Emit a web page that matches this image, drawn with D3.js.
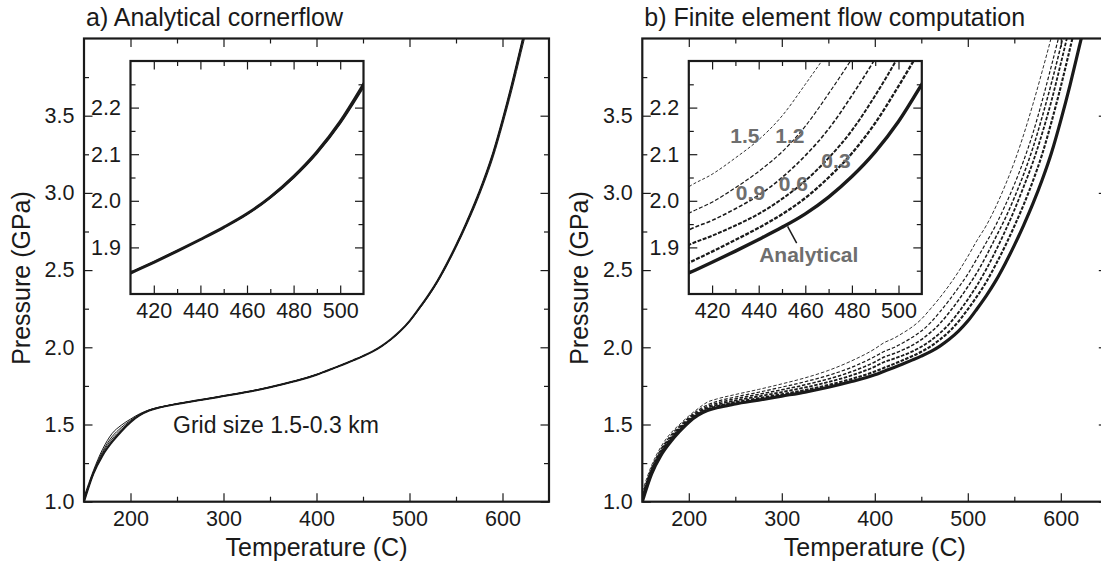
<!DOCTYPE html>
<html>
<head>
<meta charset="utf-8">
<script src="https://cdn.jsdelivr.net/npm/d3@7"></script>
<style>
  body { margin: 0; background: #fff; }
  svg { font-family: "Liberation Sans", Arial, Helvetica, sans-serif; }
  .tick text { font-size: 21.5px; fill: #1a1a1a; }
  .tick line { stroke: #1a1a1a; stroke-width: 1.2; }
</style>
</head>
<body>
<div id="chart"></div>
<script>
// Temperature (C) at which every P-T path is sampled
var temps = [150, 160, 170, 180, 190, 200, 210, 220, 230, 250, 275, 300, 325, 350, 375, 400,
    410, 420, 430, 440, 450, 460, 470, 480, 490, 500, 510, 520, 530, 540, 550, 560, 570, 580, 590, 600, 610, 620, 630];

// Pressure (GPa), analytical cornerflow solution
var analytical = [1.00, 1.18, 1.30, 1.385, 1.455, 1.515, 1.56, 1.59, 1.608, 1.633, 1.658, 1.684, 1.71, 1.741, 1.778, 1.822,
    1.845, 1.868, 1.892, 1.917, 1.943, 1.972, 2.008, 2.052, 2.105, 2.17, 2.25, 2.335, 2.43, 2.54, 2.66, 2.79, 2.93, 3.085, 3.26, 3.47, 3.70, 3.95, 4.20];

// Panel a: analytical flow sampled on grids of 1.5 - 0.3 km
var aGrid15 = [1.03, 1.20, 1.34, 1.44, 1.495, 1.535, 1.57, 1.595, 1.611, 1.635, 1.66, 1.686, 1.712, 1.743, 1.78, 1.824,
    1.846, 1.869, 1.893, 1.917, 1.943, 1.971, 2.006, 2.049, 2.101, 2.165, 2.243, 2.326, 2.419, 2.527, 2.645, 2.773, 2.91, 3.062, 3.233, 3.44, 3.665, 3.91, 4.16];
var aGrid12 = [1.02, 1.19, 1.325, 1.42, 1.48, 1.527, 1.566, 1.593, 1.61, 1.634, 1.659, 1.685, 1.711, 1.742, 1.779, 1.823,
    1.846, 1.868, 1.892, 1.917, 1.943, 1.972, 2.007, 2.051, 2.103, 2.168, 2.247, 2.331, 2.425, 2.534, 2.653, 2.782, 2.921, 3.074, 3.248, 3.457, 3.685, 3.933, 4.18];
var aGrid09 = [1.01, 1.185, 1.315, 1.405, 1.468, 1.521, 1.563, 1.591, 1.609, 1.633, 1.658, 1.684, 1.71, 1.741, 1.778, 1.822,
    1.845, 1.868, 1.892, 1.917, 1.943, 1.972, 2.008, 2.052, 2.104, 2.169, 2.249, 2.333, 2.428, 2.537, 2.657, 2.787, 2.926, 3.08, 3.255, 3.465, 3.694, 3.944, 4.19];
var aGrid06 = [1.005, 1.18, 1.305, 1.393, 1.46, 1.518, 1.561, 1.59, 1.608, 1.633, 1.658, 1.684, 1.71, 1.741, 1.778, 1.822,
    1.845, 1.868, 1.892, 1.917, 1.943, 1.972, 2.008, 2.052, 2.105, 2.17, 2.25, 2.335, 2.43, 2.54, 2.66, 2.79, 2.93, 3.085, 3.26, 3.47, 3.70, 3.95, 4.20];
var aGrid03 = [1.00, 1.18, 1.302, 1.388, 1.457, 1.516, 1.56, 1.59, 1.608, 1.633, 1.658, 1.684, 1.71, 1.741, 1.778, 1.822,
    1.845, 1.868, 1.892, 1.917, 1.943, 1.972, 2.008, 2.052, 2.105, 2.17, 2.25, 2.335, 2.43, 2.54, 2.66, 2.79, 2.93, 3.085, 3.26, 3.47, 3.70, 3.95, 4.20];

// Panel b: finite element flow computation, grid size 1.5 - 0.3 km
var bGrid15 = [1.065, 1.235, 1.355, 1.44, 1.5, 1.555, 1.603, 1.645, 1.665, 1.694, 1.727, 1.763, 1.802, 1.85, 1.912, 1.99,
    2.03, 2.057, 2.092, 2.131, 2.182, 2.25, 2.322, 2.402, 2.49, 2.588, 2.693, 2.79, 2.909, 3.046, 3.199, 3.376, 3.574, 3.788, 4.013, 4.26, 4.5, 4.7, 4.9];
var bGrid12 = [1.045, 1.22, 1.34, 1.425, 1.49, 1.546, 1.592, 1.627, 1.649, 1.678, 1.709, 1.742, 1.777, 1.818, 1.87, 1.94,
    1.973, 1.997, 2.028, 2.063, 2.105, 2.16, 2.23, 2.305, 2.387, 2.474, 2.576, 2.68, 2.79, 2.916, 3.054, 3.208, 3.386, 3.597, 3.825, 4.063, 4.31, 4.55, 4.75];
var bGrid09 = [1.03, 1.21, 1.33, 1.415, 1.48, 1.538, 1.583, 1.616, 1.638, 1.666, 1.695, 1.725, 1.757, 1.795, 1.842, 1.905,
    1.937, 1.958, 1.983, 2.012, 2.05, 2.097, 2.154, 2.226, 2.305, 2.392, 2.485, 2.594, 2.712, 2.832, 2.969, 3.12, 3.292, 3.493, 3.713, 3.95, 4.2, 4.45, 4.65];
var bGrid06 = [1.02, 1.20, 1.32, 1.405, 1.472, 1.53, 1.575, 1.607, 1.627, 1.655, 1.682, 1.71, 1.74, 1.775, 1.818, 1.875,
    1.905, 1.925, 1.947, 1.972, 2.004, 2.043, 2.092, 2.151, 2.226, 2.31, 2.402, 2.507, 2.624, 2.751, 2.888, 3.039, 3.199, 3.386, 3.597, 3.838, 4.088, 4.33, 4.55];
var bGrid03 = [1.01, 1.19, 1.31, 1.395, 1.463, 1.522, 1.568, 1.599, 1.617, 1.644, 1.669, 1.696, 1.723, 1.756, 1.795, 1.843,
    1.867, 1.891, 1.916, 1.942, 1.971, 2.006, 2.05, 2.102, 2.167, 2.246, 2.331, 2.425, 2.535, 2.654, 2.784, 2.923, 3.077, 3.251, 3.46, 3.689, 3.938, 4.188, 4.43];

// Axis ticks
var mainXMajor = [200, 300, 400, 500, 600];
var mainXMinor = [250, 350, 450, 550];
var mainYMajor = [1.0, 1.5, 2.0, 2.5, 3.0, 3.5];
var mainYMinor = [1.25, 1.75, 2.25, 2.75, 3.25, 3.75];
var insetXMajor = [420, 440, 460, 480, 500];
var insetXMinor = [430, 450, 470, 490];
var insetYMajor = [1.9, 2.0, 2.1, 2.2];
var insetYMinor = [1.85, 1.95, 2.05, 2.15, 2.25];

// Inset labels in panel b: [text, T, P]
var gridLabels = [["1.5", 427.8, 2.123], ["1.2", 447.1, 2.123], ["0.9", 430.2, 2.001], ["0.6", 448.6, 2.021], ["0.3", 466.9, 2.07]];

var svgWidth = 1101;
var svgHeight = 563;
var ink = "#1a1a1a";

var svg = d3.select("#chart")
    .append("svg")
    .attr("width", svgWidth)
    .attr("height", svgHeight);

var panelW = 465, panelH = 463.2, panelTop = 38.5;
var insetDx = 46.5, insetDy = 22.5, insetSize = 233;

var fmt1 = d3.format(".1f");

// Draw inward ticks on all four sides, labels on bottom and left
function drawTicks(g, x, y, w, h, t) {
    var major = 8.5, minor = 5;
    var layers = [
        [d3.axisBottom(x).tickValues(t.xMajor).tickSize(-major).tickPadding(9).tickFormat(t.xFmt), `translate(0,${h})`],
        [d3.axisBottom(x).tickValues(t.xMinor).tickSize(-minor).tickFormat(""), `translate(0,${h})`],
        [d3.axisTop(x).tickValues(t.xMajor).tickSize(-major).tickFormat(""), "translate(0,0)"],
        [d3.axisTop(x).tickValues(t.xMinor).tickSize(-minor).tickFormat(""), "translate(0,0)"],
        [d3.axisLeft(y).tickValues(t.yMajor).tickSize(-major).tickPadding(9.5).tickFormat(t.yFmt), "translate(0,0)"],
        [d3.axisLeft(y).tickValues(t.yMinor).tickSize(-minor).tickFormat(""), "translate(0,0)"],
        [d3.axisRight(y).tickValues(t.yMajor).tickSize(-major).tickFormat(""), `translate(${w},0)`],
        [d3.axisRight(y).tickValues(t.yMinor).tickSize(-minor).tickFormat(""), `translate(${w},0)`]
    ];
    layers.forEach(function (l) {
        var a = g.append("g").attr("transform", l[1]).call(l[0]);
        a.select(".domain").remove();
        a.attr("font-family", null).attr("font-size", null);
    });
    g.append("rect")
        .attr("width", w).attr("height", h)
        .attr("fill", "none").attr("stroke", ink).attr("stroke-width", 2.2);
}

function drawCurves(g, x, y, series, clipId) {
    var line = d3.line()
        .x(function (d, i) { return x(temps[i]); })
        .y(function (d) { return y(d); })
        .curve(d3.curveMonotoneX);
    var cg = g.append("g").attr("clip-path", `url(#${clipId})`);
    series.forEach(function (s) {
        cg.append("path")
            .attr("d", line(s.p))
            .attr("fill", "none")
            .attr("stroke", ink)
            .attr("stroke-width", s.w)
            .attr("stroke-dasharray", s.dash || null)
            .attr("stroke-linejoin", "round");
    });
}

var defs = svg.append("defs");

function drawPanel(opt) {
    var g = svg.append("g").attr("transform", `translate(${opt.left}, ${panelTop})`);

    var x = d3.scaleLinear().domain([150, 650]).range([0, panelW]);
    var y = d3.scaleLinear().domain([1.0, 4.0]).range([panelH, 0]);

    defs.append("clipPath").attr("id", opt.id + "-clip")
        .append("rect").attr("width", panelW).attr("height", panelH);

    drawCurves(g, x, y, opt.main, opt.id + "-clip");

    // Inset
    var ig = g.append("g").attr("transform", `translate(${insetDx}, ${insetDy})`);
    var ix = d3.scaleLinear().domain([410, 510]).range([0, insetSize]);
    var iy = d3.scaleLinear().domain([1.8, 2.3]).range([insetSize, 0]);
    ig.append("rect").attr("width", insetSize).attr("height", insetSize).attr("fill", "#fff");
    defs.append("clipPath").attr("id", opt.id + "-iclip")
        .append("rect").attr("width", insetSize).attr("height", insetSize);
    drawCurves(ig, ix, iy, opt.inset, opt.id + "-iclip");
    if (opt.insetLabels) opt.insetLabels(ig, ix, iy);
    drawTicks(ig, ix, iy, insetSize, insetSize, {
        xMajor: insetXMajor, xMinor: insetXMinor, yMajor: insetYMajor, yMinor: insetYMinor,
        xFmt: d3.format("d"), yFmt: fmt1
    });

    drawTicks(g, x, y, panelW, panelH, {
        xMajor: mainXMajor, xMinor: mainXMinor, yMajor: mainYMajor, yMinor: mainYMinor,
        xFmt: d3.format("d"), yFmt: fmt1
    });

    // Titles and axis labels
    g.append("text")
        .attr("x", 2).attr("y", 26 - panelTop)
        .attr("font-size", 25).attr("fill", ink)
        .text(opt.title);
    g.append("text")
        .attr("x", panelW / 2).attr("y", 556 - panelTop)
        .attr("text-anchor", "middle")
        .attr("font-size", 25).attr("fill", ink)
        .text("Temperature (C)");
    g.append("text")
        .attr("transform", `translate(-54, ${278 - panelTop}) rotate(-90)`)
        .attr("text-anchor", "middle")
        .attr("font-size", 25).attr("fill", ink)
        .text("Pressure (GPa)");

    if (opt.extra) opt.extra(g, x, y);
}

// a) Analytical cornerflow
drawPanel({
    id: "pa",
    left: 84,
    title: "a) Analytical cornerflow",
    main: [
        { p: aGrid15, w: 1 }, { p: aGrid12, w: 1 }, { p: aGrid09, w: 1 }, { p: aGrid06, w: 1 }, { p: aGrid03, w: 1 },
        { p: analytical, w: 2 }
    ],
    inset: [
        { p: aGrid15, w: 1.3 }, { p: aGrid12, w: 1.3 }, { p: aGrid09, w: 1.3 }, { p: aGrid06, w: 1.3 }, { p: aGrid03, w: 1.3 },
        { p: analytical, w: 3 }
    ],
    extra: function (g, x, y) {
        g.append("text")
            .attr("x", x(245.7)).attr("y", y(1.445))
            .attr("font-size", 23).attr("fill", ink)
            .text("Grid size 1.5-0.3 km");
    }
});

// b) Finite element flow computation
drawPanel({
    id: "pb",
    left: 642.3,
    title: "b) Finite element flow computation",
    main: [
        { p: bGrid15, w: 0.9, dash: "3.5,2" }, { p: bGrid12, w: 1.2, dash: "3.5,2" }, { p: bGrid09, w: 1.5, dash: "3.5,1.8" },
        { p: bGrid06, w: 1.8, dash: "3.5,1.6" }, { p: bGrid03, w: 2.1, dash: "3.5,1.5" },
        { p: analytical, w: 3.2 }
    ],
    inset: [
        { p: bGrid15, w: 0.9, dash: "3,2" }, { p: bGrid12, w: 1.2, dash: "4,2" }, { p: bGrid09, w: 1.6, dash: "4,2" },
        { p: bGrid06, w: 2.0, dash: "4,1.5" }, { p: bGrid03, w: 2.3, dash: "4,1.5" },
        { p: analytical, w: 3.4 }
    ],
    insetLabels: function (ig, ix, iy) {
        ig.selectAll("text.glab")
            .data(gridLabels)
            .enter()
            .append("text")
            .attr("class", "glab")
            .attr("x", d => ix(d[1]))
            .attr("y", d => iy(d[2]))
            .attr("font-size", 21).attr("font-weight", "bold").attr("fill", "#6e6e6e")
            .text(d => d[0]);
        ig.append("line")
            .attr("x1", ix(452.4)).attr("y1", iy(1.945))
            .attr("x2", ix(456.3)).attr("y2", iy(1.909))
            .attr("stroke", ink).attr("stroke-width", 1.5);
        ig.append("text")
            .attr("x", ix(440.2)).attr("y", iy(1.868))
            .attr("font-size", 21).attr("font-weight", "bold").attr("fill", "#6e6e6e")
            .text("Analytical");
    }
});
</script>
</body>
</html>
